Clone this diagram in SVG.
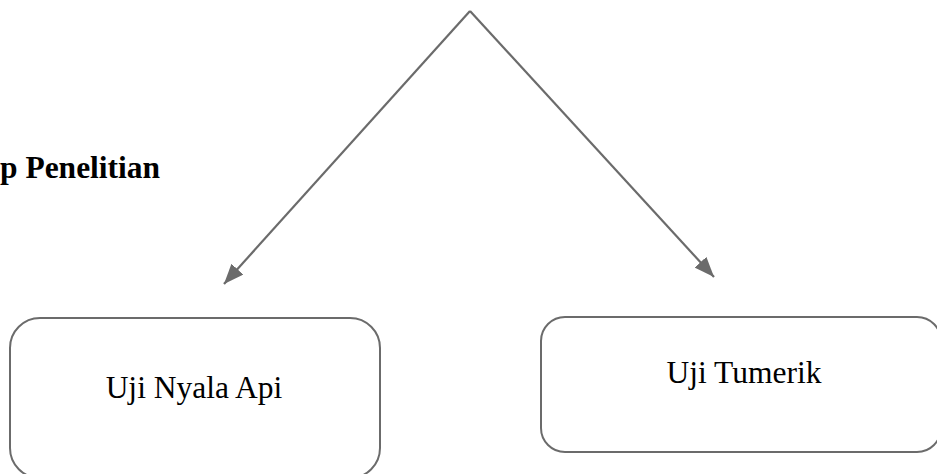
<svg xmlns="http://www.w3.org/2000/svg" width="937" height="474" viewBox="0 0 937 474">
  <style>
    .box { fill: #ffffff; stroke: #6b6b6b; stroke-width: 2; }
    .lbl { font-family: "Liberation Serif", "Times New Roman", serif; font-size: 31.5px; fill: #000000; }
    .title { font-family: "Liberation Serif", "Times New Roman", serif; font-size: 31.5px; font-weight: bold; fill: #000000; }
    .edge { fill: none; stroke: #6b6b6b; stroke-width: 2.2; }
  </style>
  <defs>
    <marker id="head" viewBox="0 0 20 16" refX="20" refY="8" markerWidth="20" markerHeight="16" markerUnits="userSpaceOnUse" orient="auto">
      <path d="M0,0 L20,8 L0,16 z" fill="#6b6b6b"/>
    </marker>
  </defs>

  <text class="title" x="0" y="178">p Penelitian</text>

  <g id="connectors">
    <path class="edge" d="M470,11 L224,284" marker-end="url(#head)"/>
    <path class="edge" d="M470,11 L714,277" marker-end="url(#head)"/>
  </g>

  <g id="node-uji-nyala-api">
    <rect class="box" x="10" y="318" width="370" height="160" rx="30" ry="30"/>
    <text class="lbl" x="194" y="398" text-anchor="middle">Uji Nyala Api</text>
  </g>

  <g id="node-uji-tumerik">
    <rect class="box" x="541" y="317" width="400" height="135" rx="24" ry="24"/>
    <text class="lbl" x="744" y="383" text-anchor="middle">Uji Tumerik</text>
  </g>
</svg>
